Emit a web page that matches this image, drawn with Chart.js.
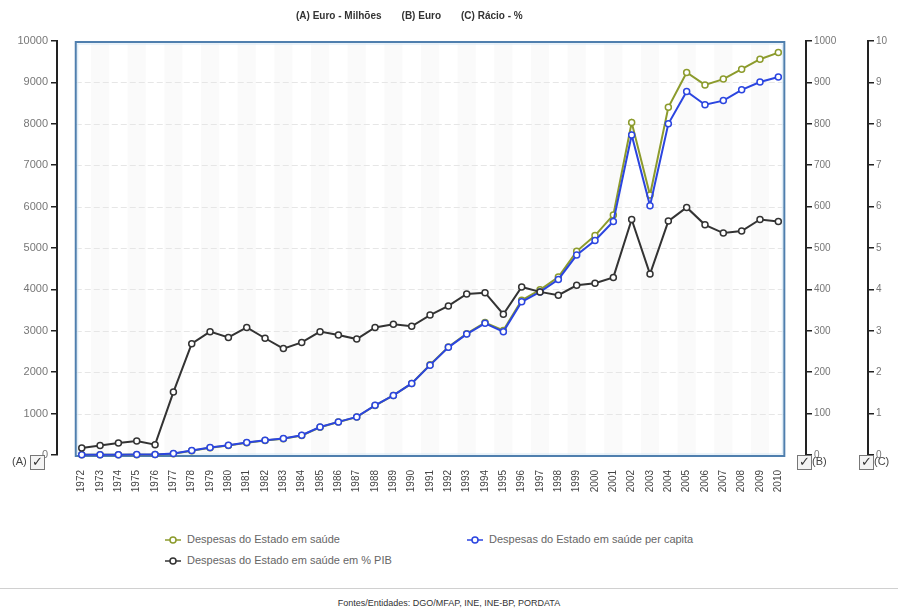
<!DOCTYPE html>
<html>
<head>
<meta charset="utf-8">
<script src="https://cdn.jsdelivr.net/npm/chart.js@4.4.1/dist/chart.umd.min.js"></script>
<style>
  body { margin: 0; background: #fff; font-family: "Liberation Sans", Arial, sans-serif; }
  #wrap { position: relative; width: 898px; height: 610px; overflow: hidden; }
  #myChart { position: absolute; left: 0; top: 0; }
  .abs { position: absolute; white-space: nowrap; }
  .titulo { top: 10px; left: 296px; font-size: 10px; font-weight: bold; color: #333; }
  .titulo span { margin-right: 20px; }
  .leg { font-size: 11px; color: #666; }
  .leg svg { vertical-align: middle; margin-right: 6px; }
  .chk { font-size: 11px; color: #444; }
  .box { display: inline-block; width: 13px; height: 13px; border: 1px solid #777; vertical-align: middle;
         font-size: 13px; line-height: 12px; text-align: center; color: #333; background: #f4f4f4; }
  .linha { left: 0; top: 588px; width: 898px; height: 0; border-top: 1px solid #d0d0d0; }
  .fonte { top: 598px; left: 0; width: 898px; text-align: center; font-size: 9px; color: #333; }
</style>
</head>
<body>
<div id="wrap">
  <canvas id="myChart" width="898" height="500"></canvas>
  <div class="abs titulo"><span>(A) Euro - Milhões</span><span>(B) Euro</span><span>(C) Rácio - %</span></div>

  <div class="abs chk" style="left:12px; top:455px;">(A) <span class="box">✓</span></div>
  <div class="abs chk" style="left:797px; top:455px;"><span class="box">✓</span>(B)</div>
  <div class="abs chk" style="left:859px; top:455px;"><span class="box">✓</span>(C)</div>

  <div class="abs leg" style="left:165px; top:533px;"><svg width="16" height="10"><line x1="0" y1="5" x2="16" y2="5" stroke="#8c9b2c" stroke-width="1.5"/><circle cx="8" cy="5" r="3" fill="#fff" stroke="#8c9b2c" stroke-width="1.5"/></svg>Despesas do Estado em saúde</div>
  <div class="abs leg" style="left:467px; top:533px;"><svg width="16" height="10"><line x1="0" y1="5" x2="16" y2="5" stroke="#2b45e0" stroke-width="1.5"/><circle cx="8" cy="5" r="3" fill="#fff" stroke="#2b45e0" stroke-width="1.5"/></svg>Despesas do Estado em saúde per capita</div>
  <div class="abs leg" style="left:165px; top:554px;"><svg width="16" height="10"><line x1="0" y1="5" x2="16" y2="5" stroke="#333" stroke-width="1.5"/><circle cx="8" cy="5" r="3" fill="#fff" stroke="#333" stroke-width="1.5"/></svg>Despesas do Estado em saúde em % PIB</div>

  <div class="abs linha"></div>
  <div class="abs fonte">Fontes/Entidades: DGO/MFAP, INE, INE-BP, PORDATA</div>
</div>
<script>
const anos = [];
for (let a = 1972; a <= 2010; a++) anos.push(a);

// (A) Euro - Milhões
const despesaTotal = [4, 5, 7, 9, 14, 32, 105, 175, 230, 295, 350, 392, 472, 670, 795, 915, 1195, 1440, 1730,
  2180, 2610, 2930, 3200, 3010, 3740, 3990, 4300, 4920, 5300, 5800, 8030, 6280, 8400, 9240, 8940, 9080, 9320, 9560, 9720];
// (B) Euro
const despesaPerCapita = [0.5, 0.6, 0.8, 1, 1.5, 3.4, 11, 18, 23.5, 30, 35.6, 39.7, 47.7, 67.7, 80, 92, 120, 144, 173,
  217, 260, 292, 318, 298, 370, 394, 424, 483, 518, 564, 773, 602, 800, 878, 846, 856, 882, 901, 913];
// (C) Rácio - %
const despesaPIB = [0.17, 0.23, 0.29, 0.34, 0.25, 1.52, 2.69, 2.98, 2.84, 3.08, 2.82, 2.57, 2.72, 2.98, 2.90, 2.80, 3.08, 3.16, 3.11,
  3.38, 3.60, 3.89, 3.92, 3.40, 4.06, 3.94, 3.86, 4.10, 4.15, 4.29, 5.69, 4.37, 5.65, 5.98, 5.56, 5.36, 5.41, 5.69, 5.64];

const ticksA = [0, 10000, 1000];
const ticksB = [0, 1000, 100];
const ticksC = [0, 10, 1];

function pontos(valores) {
  return valores.map((v, i) => ({ x: anos[i], y: v }));
}

function serie(nome, valores, cor, eixo, ordem) {
  return {
    label: nome,
    data: pontos(valores),
    yAxisID: eixo,
    borderColor: cor,
    backgroundColor: cor,
    borderWidth: 2,
    pointRadius: 3,
    pointBorderWidth: 1.5,
    pointBackgroundColor: '#fff',
    pointBorderColor: cor,
    tension: 0,
    order: ordem,
    clip: false
  };
}

// fundo: moldura, faixas e linhas da grelha
const fundo = {
  id: 'fundo',
  beforeDatasetsDraw(chart) {
    const c = chart.ctx, x = chart.scales.x, y = chart.scales.yA;
    const passo = x.getPixelForValue(anos[1]) - x.getPixelForValue(anos[0]);
    const esq = x.getPixelForValue(anos[0]) - 6;
    const dir = x.getPixelForValue(anos[anos.length - 1]) + 6;
    const topo = y.getPixelForValue(ticksA[1]) + 1;
    const base = y.getPixelForValue(0) + 1;
    c.save();
    c.fillStyle = '#fff';
    c.fillRect(esq, topo, dir - esq, base - topo);
    c.fillStyle = 'rgba(0,0,0,0.02)';
    anos.forEach((a, i) => {
      if (i % 2 === 1) {
        const px = x.getPixelForValue(a);
        c.fillRect(px - passo / 2, topo, passo, base - topo);
      }
    });
    c.strokeStyle = '#e6e6e6';
    c.lineWidth = 1;
    c.setLineDash([6, 3]);
    for (let v = ticksA[2]; v < ticksA[1]; v += ticksA[2]) {
      const py = Math.round(y.getPixelForValue(v)) + 0.5;
      c.beginPath(); c.moveTo(esq, py); c.lineTo(dir, py); c.stroke();
    }
    c.setLineDash([]);
    c.strokeStyle = '#d6e8f5';
    c.strokeRect(esq + 2, topo + 2, dir - esq - 4, base - topo - 4);
    c.strokeStyle = '#4f7fae';
    c.lineWidth = 2;
    c.strokeRect(esq, topo, dir - esq, base - topo);
    c.restore();
  }
};

Chart.defaults.font.family = '"Liberation Sans", Arial, sans-serif';

new Chart(document.getElementById('myChart'), {
  type: 'line',
  data: {
    datasets: [
      serie('Despesas do Estado em saúde', despesaTotal, '#8c9b2c', 'yA', 2),
      serie('Despesas do Estado em saúde per capita', despesaPerCapita, '#2b45e0', 'yB', 1),
      serie('Despesas do Estado em saúde em % PIB', despesaPIB, '#333333', 'yC', 0)
    ]
  },
  options: {
    responsive: false,
    animation: false,
    devicePixelRatio: 1,
    layout: { padding: { top: 41, left: 0, right: 0, bottom: 0 } },
    plugins: { legend: { display: false }, tooltip: { enabled: false } },
    scales: {
      x: {
        type: 'linear',
        min: 1970.65,
        max: 2011.51,
        afterBuildTicks: s => { s.ticks = anos.map(v => ({ value: v })); },
        afterFit: s => { s.height = 45; },
        ticks: { autoSkip: false, maxRotation: 90, minRotation: 90, padding: 7, color: '#444', font: { size: 10 }, callback: v => String(v) },
        grid: { display: false },
        border: { display: false }
      },
      yA: {
        position: 'left',
        min: ticksA[0], max: ticksA[1],
        afterFit: s => { s.width = 57; },
        ticks: { stepSize: ticksA[2], color: '#777', font: { size: 11 }, padding: 3, callback: v => v },
        grid: { drawOnChartArea: false, color: '#222', lineWidth: 1.5, tickLength: 6 },
        border: { color: '#222', width: 2 }
      },
      yB: {
        position: 'right',
        weight: 0,
        min: ticksB[0], max: ticksB[1],
        afterFit: s => { s.width = 62; },
        ticks: { stepSize: ticksB[2], color: '#777', font: { size: 10 }, padding: 2, callback: v => v },
        grid: { drawOnChartArea: false, color: '#222', lineWidth: 1.5, tickLength: 6 },
        border: { color: '#222', width: 2 }
      },
      yC: {
        position: 'right',
        weight: 1,
        min: ticksC[0], max: ticksC[1],
        afterFit: s => { s.width = 30; },
        ticks: { stepSize: ticksC[2], color: '#777', font: { size: 10 }, padding: 2, callback: v => v },
        grid: { drawOnChartArea: false, color: '#222', lineWidth: 1.5, tickLength: 6 },
        border: { color: '#222', width: 2 }
      }
    }
  },
  plugins: [fundo]
});
</script>
</body>
</html>
